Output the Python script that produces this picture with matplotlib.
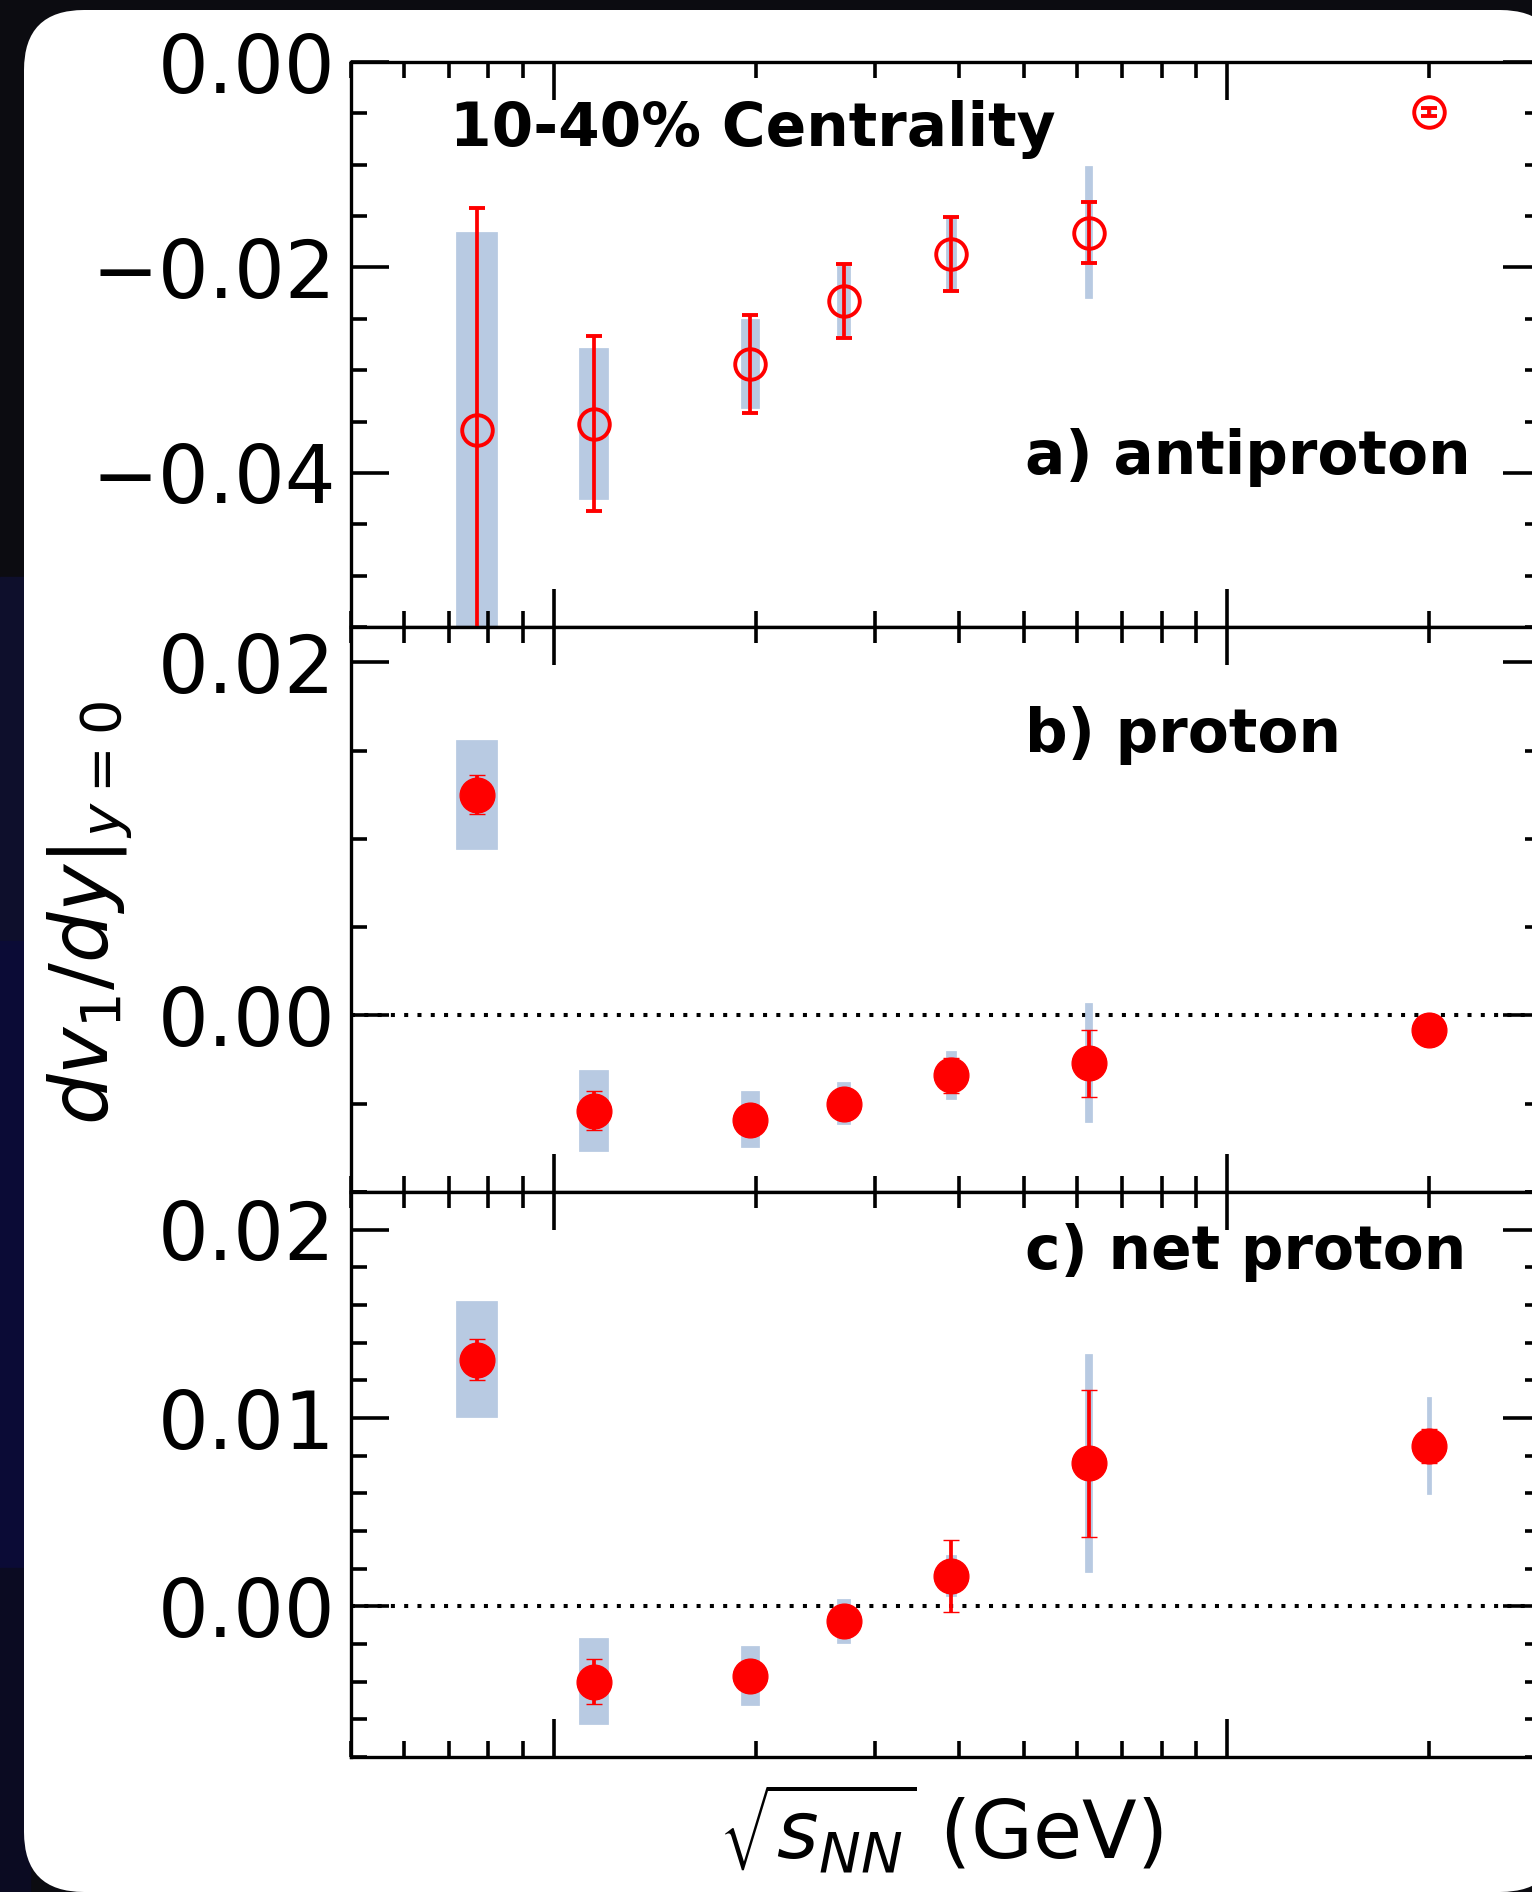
import matplotlib
matplotlib.use("Agg")
import matplotlib.pyplot as plt
from matplotlib.patches import FancyBboxPatch, Rectangle
from matplotlib.ticker import MultipleLocator, LogLocator, NullFormatter, FuncFormatter

# Beam energies (GeV)
energy = [7.7, 11.5, 19.6, 27, 39, 62.4, 200]

# a) antiproton
pbar_val = [-0.0358, -0.0352, -0.0294, -0.0233, -0.0187, -0.0166, -0.0049]
pbar_stat = [0.0216, 0.0085, 0.0048, 0.0036, 0.0036, 0.0030, 0.0004]
pbar_sys = [0.0191, 0.0072, 0.0042, 0.0032, 0.0033, 0.0063, 0.0003]

# b) proton
p_val = [0.0125, -0.0054, -0.0059, -0.0050, -0.0034, -0.0027, -0.0008]
p_stat = [0.0011, 0.0011, 0.0007, 0.0007, 0.0010, 0.0019, 0.0004]
p_sys = [0.0030, 0.0022, 0.0015, 0.0011, 0.0013, 0.0033, 0.0004]

# c) net proton
netp_val = [0.0131, -0.0040, -0.0037, -0.0008, 0.0016, 0.0076, 0.0085]
netp_stat = [0.0011, 0.0012, 0.0007, 0.0007, 0.0019, 0.0039, 0.0009]
netp_sys = [0.0030, 0.0022, 0.0015, 0.0011, 0.0010, 0.0057, 0.0025]

panel_labels = ["a) antiproton", "b) proton", "c) net proton"]

RED = "#ff0000"
SYS = "#b8cae2"

fig = plt.figure(figsize=(15.32, 18.92), dpi=100)
fig.patch.set_facecolor("#0c0c11")

# tamna pozadina lijevo (blago plavkasta) i bijela kartica
for y0, y1, c in [(0, 577, "#0c0c11"), (577, 941, "#0e0f2c"),
                  (941, 1568, "#0b0b36"), (1568, 1892, "#0b0b22")]:
    fig.add_artist(Rectangle((0, (1892 - y1) / 100), 0.3, (y1 - y0) / 100,
                             transform=fig.dpi_scale_trans, color=c, zorder=-20))
card = FancyBboxPatch((0.24, 0.0), 15.36, 18.82,
                      boxstyle="round,pad=0,rounding_size=0.6",
                      transform=fig.dpi_scale_trans, facecolor="white",
                      edgecolor="none", zorder=-10)
fig.add_artist(card)

left, width = 351 / 1532, 1190 / 1532
h = 565 / 1892
ax_a = fig.add_axes([left, (1892 - 627) / 1892, width, h])
ax_b = fig.add_axes([left, (1892 - 1192) / 1892, width, h])
ax_c = fig.add_axes([left, (1892 - 1757) / 1892, width, h])

minus_fmt = FuncFormatter(lambda v, pos: f"{v:.2f}".replace("-", "\u2212"))


def draw_panel(ax, vals, stat, sys, open_marker):
    ax.set_xscale("log")
    ax.set_xlim(5, 293)
    # sistematske greške - pravokutnici
    ax.bar(energy, [2 * s for s in sys], width=1.0,
           bottom=[v - s for v, s in zip(vals, sys)],
           color=SYS, edgecolor=SYS, linewidth=2.7, zorder=1)
    if open_marker:
        ax.errorbar(energy, vals, yerr=stat, fmt="o", color=RED, ms=22,
                    mfc="none", mew=2.8, elinewidth=2.7, capsize=6,
                    capthick=2.8, zorder=3)
    else:
        ax.errorbar(energy, vals, yerr=stat, fmt="o", color=RED, ms=25,
                    mew=1, elinewidth=2.7, capsize=6, capthick=2.8, zorder=3)
    for sp in ax.spines.values():
        sp.set_linewidth(2.4)
    ax.tick_params(which="both", direction="in", top=True, right=True,
                   width=2.6, labelsize=57.5, pad=11)
    ax.tick_params(which="major", length=27.5)
    ax.tick_params(which="minor", length=11.5)
    ax.xaxis.set_major_locator(LogLocator(base=10))
    ax.xaxis.set_minor_locator(LogLocator(base=10, subs=range(2, 10)))
    ax.xaxis.set_major_formatter(NullFormatter())
    ax.xaxis.set_minor_formatter(NullFormatter())
    ax.yaxis.set_major_formatter(minus_fmt)


draw_panel(ax_a, pbar_val, pbar_stat, pbar_sys, True)
ax_a.set_ylim(-0.055, 0.0)
ax_a.yaxis.set_major_locator(MultipleLocator(0.02))
ax_a.yaxis.set_minor_locator(MultipleLocator(0.005))

draw_panel(ax_b, p_val, p_stat, p_sys, False)
ax_b.set_ylim(-0.01, 0.022)
ax_b.yaxis.set_major_locator(MultipleLocator(0.02))
ax_b.yaxis.set_minor_locator(MultipleLocator(0.005))
ax_b.axhline(0, color="black", linestyle=(0, (1, 2.3)), linewidth=2.9, zorder=0)

draw_panel(ax_c, netp_val, netp_stat, netp_sys, False)
ax_c.set_ylim(-0.008, 0.022)
ax_c.yaxis.set_major_locator(MultipleLocator(0.01))
ax_c.yaxis.set_minor_locator(MultipleLocator(0.002))
ax_c.axhline(0, color="black", linestyle=(0, (1, 2.3)), linewidth=2.9, zorder=0)

# natpisi
ax_a.text(0.083, 0.881, "10-40% Centrality", transform=ax_a.transAxes,
          fontsize=43, fontweight="bold", ha="left", va="center")
ax_a.text(0.566, 0.300, panel_labels[0], transform=ax_a.transAxes,
          fontsize=43, fontweight="bold", ha="left", va="center")
ax_b.text(0.566, 0.808, panel_labels[1], transform=ax_b.transAxes,
          fontsize=43, fontweight="bold", ha="left", va="center")
ax_c.text(0.566, 0.893, panel_labels[2], transform=ax_c.transAxes,
          fontsize=43, fontweight="bold", ha="left", va="center")

ax_b.set_ylabel(r"$dv_1/dy|_{y=0}$", fontsize=57.5, va="center")
ax_b.yaxis.set_label_coords((90 - 351) / 1190, (1192 - 913) / 565)
ax_c.set_xlabel(r"$\sqrt{s_{NN}}$ (GeV)", fontsize=57.5, va="center")
ax_c.xaxis.set_label_coords((941 - 351) / 1190, (1757 - 1830) / 565)

fig.savefig("out.png", dpi=100, facecolor=fig.get_facecolor())
